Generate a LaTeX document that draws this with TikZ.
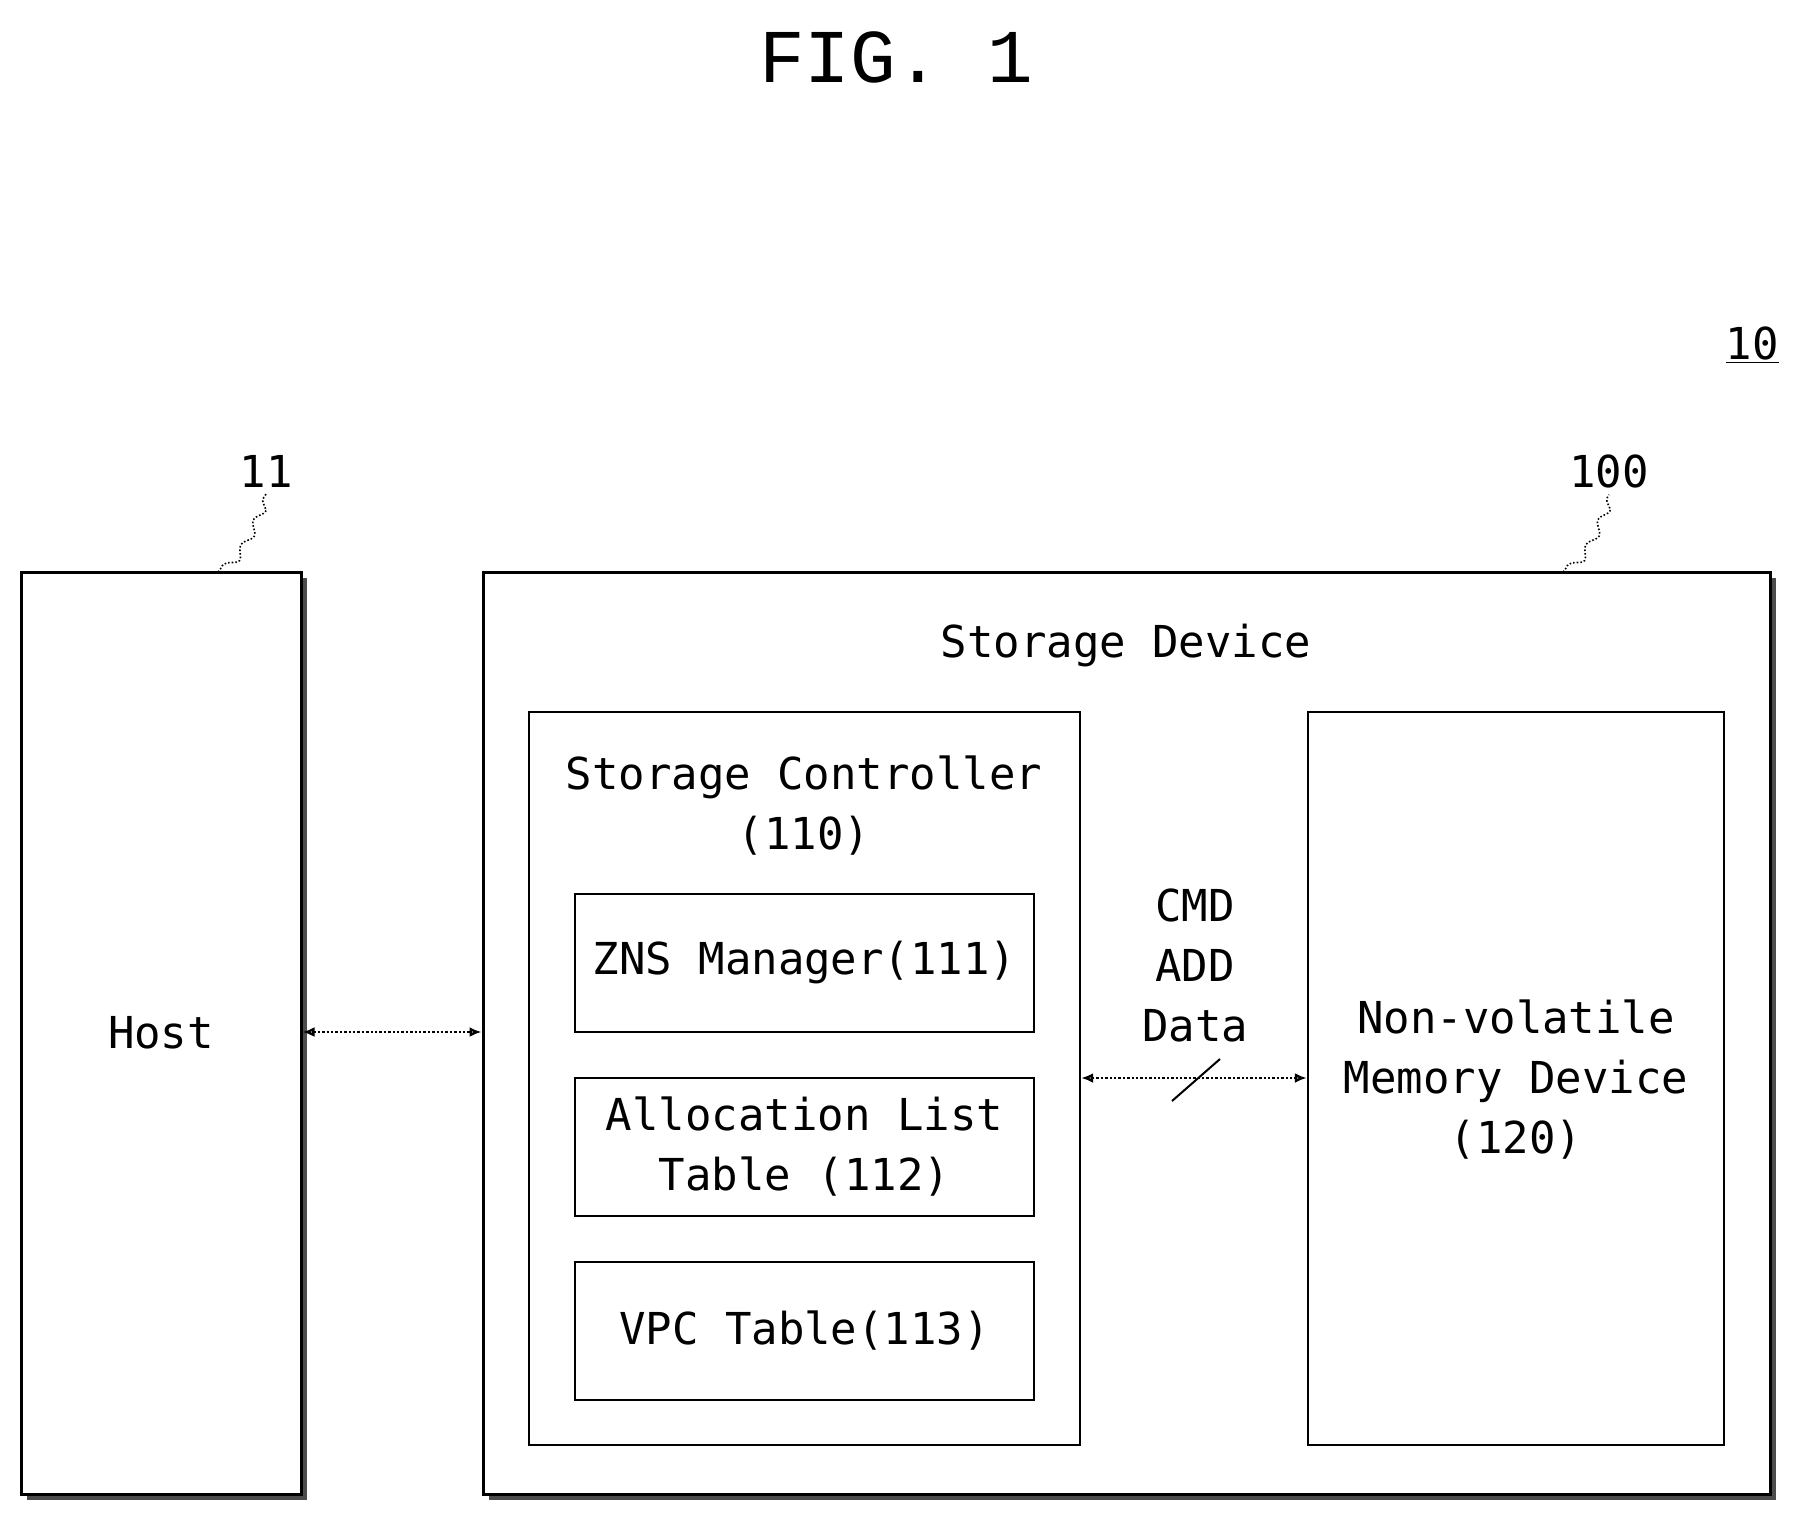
\documentclass[tikz,border=0pt]{standalone}
\usepackage{fontspec}
\setmainfont{DejaVu Sans Mono}
\newfontfamily\figfont{Liberation Mono}
\usetikzlibrary{arrows.meta,decorations.pathmorphing}
\begin{document}
\begin{tikzpicture}[x=0.5pt,y=-0.5pt,
  box/.style={draw,line width=1.2pt,inner sep=0},
  outer/.style={box,line width=1.5pt},
  shadow/.style={fill=black!70},
  lbl/.style={font=\fontsize{22}{30}\selectfont,align=center},
  conn/.style={densely dotted,line width=1.2pt,{Latex[length=6pt,width=5pt,open]}-{Latex[length=6pt,width=5pt,open]}},
  lead/.style={line width=0.8pt,densely dotted,decorate,decoration={snake,amplitude=2pt,segment length=14pt}}]
\useasboundingbox (0,0) rectangle (1793,1515);
\node[font=\figfont\fontsize{38}{40}\selectfont] (fig) at (896,57) {FIG. 1};
\node[lbl] (ten) at (1752,345) {\underline{10}};
% host
\fill[shadow] (27,578) rectangle (307,1500);
\node[outer,fill=white,minimum width=140pt,minimum height=461pt] (host) at (161,1033) {};
\node[lbl] at (host) {Host};
% storage device
\fill[shadow] (489,578) rectangle (1776,1500);
\node[outer,fill=white,minimum width=643.5pt,minimum height=461pt] (sd) at (1126.5,1033) {};
\node[lbl] (sdt) at (1126,646) {Storage Device};
\node[box,minimum width=275.5pt,minimum height=366.5pt] (ctl) at (804.5,1078.5) {};
\node[lbl] (ctlt) at (804,806) {Storage Controller\\(110)};
\node[box,minimum width=229.5pt,minimum height=69pt,lbl] (zns) at (804.5,963) {ZNS Manager(111)};
\node[box,minimum width=229.5pt,minimum height=69pt,lbl] (alt) at (804.5,1147) {Allocation List\\Table (112)};
\node[box,minimum width=229.5pt,minimum height=69pt,lbl] (vpc) at (804.5,1331) {VPC Table(113)};
\node[box,minimum width=208pt,minimum height=366.5pt] (nvm) at (1516,1078.5) {};
\node[lbl] (nvmt) at (1516,1080) {Non-volatile\\Memory Device\\(120)};
\node[lbl] (cmd) at (1195,965) {CMD\\ADD\\Data};
% connectors
\coordinate (h1) at (host.east |- 0,1032);
\coordinate (s1) at (sd.west |- 0,1032);
\draw[conn] (h1) -- (s1);
\coordinate (c1) at (ctl.east |- 0,1078);
\coordinate (n1) at (nvm.west |- 0,1078);
\draw[conn] (c1) -- (n1);
\coordinate (sl1) at (1172,1101);
\coordinate (sl2) at (1220,1059);
\draw[line width=1pt] (sl1) -- (sl2);
% reference labels
\node[lbl] (l11) at (266,471) {11};
\node[lbl] (l100) at (1609,471) {100};
\coordinate (a11) at (218,572);
\coordinate (a100) at (1563,572);
\draw[lead] (a11) .. controls (240,560) and (250,520) .. (l11.south);
\draw[lead] (a100) .. controls (1585,560) and (1595,520) .. (l100.south);
\end{tikzpicture}
\end{document}
